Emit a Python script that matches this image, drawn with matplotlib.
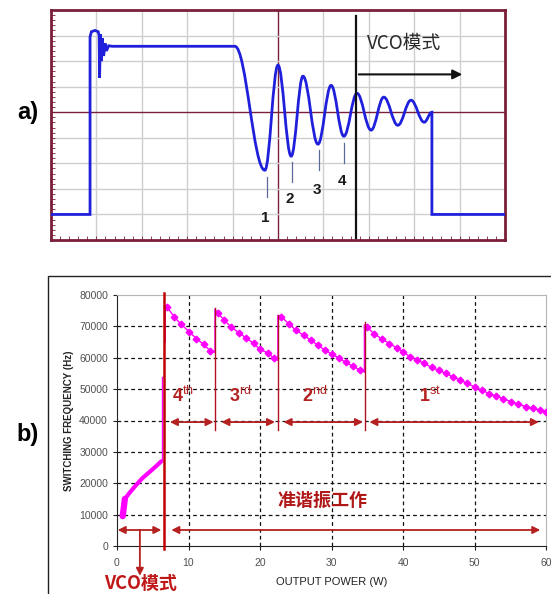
import matplotlib
matplotlib.use("Agg")
import matplotlib.pyplot as plt
from matplotlib.path import Path
from matplotlib.patches import PathPatch, Rectangle

plt.rcParams['font.family'] = ['Liberation Sans', 'Noto Sans CJK SC', 'DejaVu Sans']
plt.rcParams['mathtext.fontset'] = 'custom'
plt.rcParams['mathtext.rm'] = 'Liberation Sans'
plt.rcParams['mathtext.bf'] = 'Liberation Sans:bold'
CJK = ['Noto Sans CJK SC', 'DejaVu Sans']

# ---- panel a: oscilloscope trace (units = screen divisions) ----
head_x = [0.0, 0.86, 0.86, 0.89, 0.97, 1.04, 1.06, 1.07, 1.09, 1.11, 1.13, 1.16, 1.19, 1.22, 1.27, 1.35, 4.05]
head_y = [1.0, 1.0, 7.95, 8.15, 8.2, 8.15, 8.0, 6.35, 8.05, 7.0, 7.9, 7.2, 7.7, 7.4, 7.6, 7.58, 7.58]
ring_x = [4.05, 4.71, 5.00, 5.29, 5.55, 5.88, 6.17, 6.45, 6.74, 7.05, 7.33, 7.64, 7.93, 8.22, 8.39]
ring_y = [7.58, 2.73, 6.84, 3.28, 6.41, 3.75, 6.05, 4.06, 5.74, 4.30, 5.59, 4.49, 5.47, 4.61, 5.0]
tail_x = [8.39, 10.0]
tail_y = [1.0, 1.0]
valley_labels = ['1', '2', '3', '4']
valley_x = [4.76, 5.31, 5.90, 6.45]
vco_edge = 6.72

# ---- panel b: switching frequency vs output power ----
vco_x = [0.8, 0.85, 0.95, 1.1, 1.6, 2.5, 3.5, 4.5, 5.5, 6.2]
vco_y = [9500, 11000, 13500, 15000, 16500, 19000, 21500, 23500, 25500, 27000]
jump_x = 6.34
jump_y = [27000, 54000]
seg4_x = [7.0, 8.0, 9.0, 10.1, 11.1, 12.1, 13.0]
seg4_y = [76200, 73000, 70600, 68300, 66100, 64300, 62300]
seg3_x = [14.1, 15.0, 16.0, 17.1, 18.1, 19.1, 20.0, 21.1, 22.0]
seg3_y = [74200, 72000, 69700, 67900, 66200, 64600, 62700, 61500, 59800]
seg2_x = [23.0, 24.0, 25.0, 26.1, 27.1, 28.1, 29.1, 30.1, 31.1, 32.0, 33.0, 34.0]
seg2_y = [73000, 70900, 68800, 67200, 65600, 64000, 62400, 61100, 59800, 58500, 57300, 56000]
seg1_x = [35.0, 35.9, 37.0, 38.1, 39.1, 40.0, 41.0, 42.0, 43.0, 44.0, 45.0, 46.0, 47.0,
          48.0, 49.0, 50.0, 51.0, 52.0, 53.0, 54.0, 55.1, 56.1, 57.2, 58.2, 59.1, 60.0]
seg1_y = [69800, 67700, 66100, 64500, 63200, 61900, 60300, 59200, 58200, 56900, 56000, 55000, 53900,
          52900, 51800, 50700, 49700, 48600, 47800, 47000, 46000, 45200, 44400, 43900, 43300, 42800]
rise_x = [6.75, 13.7, 22.5, 34.6]
rise_lo = [65000, 61800, 59300, 55500]
rise_hi = [76500, 75500, 73500, 70500]
valley_sep = [13.7, 22.5, 34.7]
vco_line = 6.55
order_labels = [r'$\mathbf{4}^{\rm th}$', r'$\mathbf{3}^{\rm rd}$', r'$\mathbf{2}^{\rm nd}$', r'$\mathbf{1}^{\rm st}$']
order_x = [9.2, 17.2, 27.7, 43.8]
span_lo = [7.4, 14.6, 23.3, 35.3]
span_hi = [13.5, 22.1, 34.4, 59.0]

W, H = 551, 594
fig = plt.figure(figsize=(W / 100, H / 100), dpi=100)

# ================= a) =================
maroon = '#7a1f3a'
blue = '#1f1fdc'
ax = fig.add_axes([51 / W, 1 - 240 / H, 454 / W, 230 / H])
ax.set_xlim(0, 10)
ax.set_ylim(0, 9)
for v in range(1, 10):
    ax.axvline(v, color=maroon if v == 5 else '#cfcfcf', lw=1.0, zorder=1)
for h in range(1, 9):
    ax.axhline(h, color=maroon if h == 5 else '#cfcfcf', lw=1.0, zorder=1)
for s in ax.spines.values():
    s.set_color(maroon)
    s.set_linewidth(2.0)
ax.set_xticks([i * 0.2 for i in range(51)], minor=True)
ax.set_yticks([i * 0.2 for i in range(46)], minor=True)
ax.set_xticks([]); ax.set_yticks([])
ax.tick_params(which='minor', direction='in', length=3, color=maroon, width=0.6,
               labelbottom=False, labelleft=False)

verts = list(zip(head_x, head_y))
codes = [Path.MOVETO] + [Path.LINETO] * (len(head_x) - 1)
k = 0.38
for i in range(1, len(ring_x)):
    x0, y0, x1, y1 = ring_x[i - 1], ring_y[i - 1], ring_x[i], ring_y[i]
    verts += [(x0 + k * (x1 - x0), y0), (x1 - k * (x1 - x0), y1), (x1, y1)]
    codes += [Path.CURVE4] * 3
verts += list(zip(tail_x, tail_y))
codes += [Path.LINETO] * len(tail_x)
ax.add_patch(PathPatch(Path(verts, codes), fill=False, edgecolor=blue, lw=2.0, zorder=3))

for vx, vy in zip(valley_x, [2.46, 3.05, 3.52, 3.79]):
    ax.plot([vx, vx], [vy - 0.78, vy], color='#5a6a9a', lw=0.9, zorder=3)
for lab, vx, ly in zip(valley_labels, valley_x, [0.86, 1.6, 1.95, 2.3]):
    ax.text(vx - 0.05, ly, lab, ha='center', va='center', fontsize=11, fontweight='bold', color='#1a1a1a')

ax.plot([vco_edge, vco_edge], [0.08, 8.75], color='#111111', lw=1.6, zorder=4, clip_on=False)
ax.annotate('', xy=(9.12, 6.48), xytext=(vco_edge, 6.48),
            arrowprops=dict(arrowstyle='-|>', color='#111111', lw=1.5, mutation_scale=14))
ax.text(6.96, 7.7, 'VCO模式', ha='left', va='center', fontsize=13.5, color='#2a2a2a', family=CJK)

fig.text(28 / W, 1 - 113 / H, 'a)', ha='center', va='center', fontsize=17, fontweight='bold')

# ================= b) =================
fig.patches.append(Rectangle((48 / W, -0.1), 1.0, (H - 276) / H + 0.1, transform=fig.transFigure,
                             fill=False, edgecolor='#222222', lw=1.0))
fig.text(28 / W, 1 - 435 / H, 'b)', ha='center', va='center', fontsize=17, fontweight='bold')

red = '#c00000'
magenta = '#ff00ff'
bx = fig.add_axes([117 / W, 1 - 546 / H, 429 / W, 251 / H])
bx.set_xlim(0, 60)
bx.set_ylim(0, 80000)
bx.set_xticks(range(0, 61, 10))
bx.set_yticks(range(0, 80001, 10000))
bx.tick_params(labelsize=7.5, labelcolor='#505050', length=3, color='#222222')
bx.tick_params(axis='x', pad=6)
for v in range(10, 60, 10):
    bx.axvline(v, color='#111111', lw=0.9, ls=(0, (3, 2.5)), zorder=1)
for h in range(10000, 80000, 10000):
    bx.axhline(h, color='#111111', lw=0.9, ls=(0, (3, 2.5)), zorder=1)
bx.spines['top'].set_color('#b5b5b5')
bx.spines['right'].set_color('#b5b5b5')
bx.spines['left'].set_color('#222222')
bx.spines['bottom'].set_color('#222222')
bx.set_ylabel('SWITCHING FREQUENCY (Hz)', fontsize=7, fontweight='bold', color='#222222', labelpad=4)
bx.set_xlabel('OUTPUT POWER (W)', fontsize=8, color='#222222', labelpad=6)

bx.plot(vco_x, vco_y, color=magenta, lw=3.0, solid_capstyle='round', zorder=4)
bx.plot([vco_x[0], vco_x[3]], [vco_y[0], vco_y[3]], color=magenta, lw=4.5, solid_capstyle='round', zorder=4)
bx.plot([jump_x, jump_x], jump_y, color=magenta, lw=1.0, zorder=4)
segs = [(seg4_x, seg4_y), (seg3_x, seg3_y), (seg2_x, seg2_y), (seg1_x, seg1_y)]
for i, (sx, sy) in enumerate(segs):
    bx.plot([rise_x[i], rise_x[i], sx[0]], [rise_lo[i], rise_hi[i], sy[0]], color=magenta, lw=1.0, zorder=4)
    if i > 0:
        px, py = segs[i - 1]
        bx.plot([px[-1], rise_x[i]], [py[-1], rise_lo[i]], color=magenta, lw=1.0, zorder=4)
    bx.plot(sx, sy, color=magenta, lw=1.0, marker='D', ms=3.4, mec=magenta, mfc=magenta, zorder=5)

bx.plot([vco_line, vco_line], [-800, 80600], color=red, lw=1.8, zorder=6, clip_on=False)
for sx, top in zip(valley_sep, [76000, 73500, 71500]):
    bx.plot([sx, sx], [37000, top], color='#b01020', lw=1.0, zorder=6)

arrow = dict(arrowstyle='<|-|>', color='#b52020', lw=1.3, mutation_scale=11, shrinkA=0, shrinkB=0)
for lab, lx, a, b in zip(order_labels, order_x, span_lo, span_hi):
    bx.annotate('', xy=(b, 39500), xytext=(a, 39500), arrowprops=arrow, zorder=6)
    bx.text(lx, 47800, lab, ha='center', va='center', fontsize=13, color='#b52020')

bx.annotate('', xy=(6.2, 5100), xytext=(0.1, 5100), arrowprops=arrow)
bx.annotate('', xy=(59.2, 5100), xytext=(7.6, 5100), arrowprops=arrow)
bx.annotate('', xy=(3.2, -9500), xytext=(3.2, 5100), annotation_clip=False,
            arrowprops=dict(arrowstyle='-|>', color='#b52020', lw=1.3, mutation_scale=11, shrinkA=0, shrinkB=0))
bx.text(22.5, 14600, '准谐振工作', ha='left', va='center', fontsize=13, fontweight='bold',
        color='#b01818', family=CJK)
fig.text(141 / W, 1 - 583 / H, 'VCO模式', ha='center', va='center', fontsize=13, fontweight='bold',
         color='#c01818', family=CJK)

fig.savefig('out.png', dpi=100)
